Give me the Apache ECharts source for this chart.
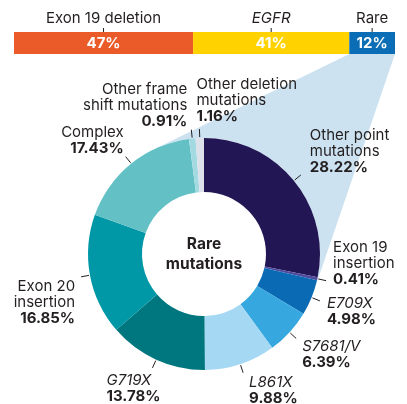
<!DOCTYPE html>
<html>
<head>
<meta charset="utf-8">
<script src="https://cdn.jsdelivr.net/npm/echarts@6/dist/echarts.min.js"></script>
<style>
html, body { margin: 0; padding: 0; background: #fff; }
#chart { width: 407px; height: 404px; }
</style>
</head>
<body>
<div id="chart"></div>
<script>
// top bar: split of EGFR mutations
var barNames = ['Exon 19 deletion', 'EGFR', 'Rare'];
var barValues = [47, 41, 12];
var barColors = ['#EB5B2A', '#FFD200', '#0A6DB5'];

// donut: rare mutations, clockwise from 12 o'clock
var rareNames = ['Other point\nmutations', 'Exon 19\ninsertion', 'E709X', 'S7681/V', 'L861X',
	'G719X', 'Exon 20\ninsertion', 'Complex', 'Other frame\nshift mutations', 'Other deletion\nmutations'];
var rareValues = [28.22, 0.41, 4.98, 6.39, 9.88, 13.78, 16.85, 17.43, 0.91, 1.16];
var rareColors = ['#231655', '#4F4A9E', '#0A6AB3', '#36A8DF', '#A5D8F3',
	'#00777F', '#0098A6', '#63C1C6', '#A3DAE2', '#DCE1EA'];
var italicNames = ['EGFR', 'E709X', 'S7681/V', 'L861X', 'G719X'];

// where each label sits relative to the end of its tick: [align, dx, dy(top)]
var labelPlace = [
	['left', 9, -47], ['left', 7, -41], ['left', 7, -5], ['left', 6, 0], ['left', 6, 2],
	['left', -46, 5], ['right', -6, 2], ['right', -2, -32], ['right', -4, -48], ['left', -3, -53]
];

var FONT = 'Inter, "Noto Sans", sans-serif';
var TEXT = '#231f20';
var FS = 15;
var cx = 204, cy = 254, rIn = 62, rOut = 116;
var gridTop = 32, gridH = 22;

// mid angle of every slice (radians, 0 = up, clockwise)
var total = rareValues.reduce(function (a, b) { return a + b; }, 0);
var midAngles = [];
var acc = 0;
for (var i = 0; i < rareValues.length; i++) {
	midAngles.push((acc + rareValues[i] / 2) / total * Math.PI * 2);
	acc += rareValues[i];
}
function polar(a, r) {
	return [cx + r * Math.sin(a), cy - r * Math.cos(a)];
}

var myChart = echarts.init(document.getElementById('chart'));

var barSeries = barNames.map(function (name, i) {
	return {
		name: name,
		type: 'bar',
		stack: 'all',
		barWidth: '100%',
		silent: true,
		itemStyle: { color: barColors[i] },
		label: {
			show: true,
			position: 'inside',
			formatter: '{c}%',
			color: '#fff',
			fontFamily: FONT,
			fontWeight: 'bold',
			fontSize: FS
		},
		data: [barValues[i]]
	};
});

var option = {
	animation: false,
	grid: { left: 14, right: 12, top: gridTop, height: gridH },
	xAxis: { type: 'value', min: 0, max: 100, show: false },
	yAxis: { type: 'category', data: ['EGFR'], show: false },
	series: barSeries.concat([{
		type: 'pie',
		center: [cx, cy],
		radius: [rIn, rOut],
		startAngle: 90,
		clockwise: true,
		silent: true,
		avoidLabelOverlap: false,
		z: 3,
		data: rareValues.map(function (v, i) {
			return { name: rareNames[i], value: v, itemStyle: { color: rareColors[i] } };
		}),
		label: {
			show: true,
			position: 'outside',
			formatter: function (p) {
				var style = italicNames.indexOf(p.name) >= 0 ? 'i' : 'n';
				return '{' + style + '|' + p.name + '}\n{v|' + p.value.toFixed(2) + '%}';
			},
			rich: {
				n: { fontFamily: FONT, fontSize: FS, lineHeight: 16, color: TEXT },
				i: { fontFamily: FONT, fontSize: FS, lineHeight: 16, color: TEXT, fontStyle: 'italic' },
				v: { fontFamily: FONT, fontSize: FS, lineHeight: 16, color: TEXT, fontWeight: 'bold' }
			}
		},
		labelLine: { show: true, length: 8, length2: 0, lineStyle: { color: TEXT, width: 1 } },
		labelLayout: function (params) {
			var i = params.dataIndex;
			var p0 = polar(midAngles[i], rOut + 1);
			var p1 = polar(midAngles[i], rOut + 9);
			var place = labelPlace[i];
			return {
				x: p1[0] + place[1],
				y: p1[1] + place[2],
				align: place[0],
				verticalAlign: 'top',
				labelLinePoints: [p0, p1, p1]
			};
		}
	}])
};
myChart.setOption(option);

// wedge from the Rare segment to the donut, tangent to the outer ring
var xa = myChart.convertToPixel({ xAxisIndex: 0 }, barValues[0] + barValues[1]);
var xb = myChart.convertToPixel({ xAxisIndex: 0 }, 100);
var yb = gridTop + gridH;
function tangent(px, py, side) {
	var d = Math.sqrt((px - cx) * (px - cx) + (py - cy) * (py - cy));
	return Math.atan2(py - cy, px - cx) + side * Math.acos(rOut / d);
}
var t1 = tangent(xb, yb, 1);
var t2 = tangent(xa, yb, -1);
var wedge = [[xa, yb], [xb, yb]];
for (var k = 0; k <= 24; k++) {
	var a = t1 + (t2 - t1) * k / 24;
	wedge.push([cx + rOut * Math.cos(a), cy + rOut * Math.sin(a)]);
}

var graphics = [{
	type: 'polygon',
	silent: true,
	z: 1,
	shape: { points: wedge },
	style: { fill: '#CCE2F1' }
}, {
	type: 'text',
	silent: true,
	z: 5,
	x: cx,
	y: cy,
	style: {
		text: 'Rare\nmutations',
		align: 'center',
		verticalAlign: 'middle',
		fontFamily: FONT,
		fontWeight: 'bold',
		fontSize: 15.5,
		lineHeight: 20,
		fill: TEXT
	}
}];

// names above the bar with small ticks
var start = 0;
barNames.forEach(function (name, i) {
	var mx = myChart.convertToPixel({ xAxisIndex: 0 }, start + barValues[i] / 2);
	start += barValues[i];
	graphics.push({
		type: 'text',
		silent: true,
		x: mx,
		y: gridTop - 14,
		style: {
			text: name,
			align: 'center',
			verticalAlign: 'middle',
			fontFamily: FONT,
			fontSize: FS,
			fontStyle: italicNames.indexOf(name) >= 0 ? 'italic' : 'normal',
			fill: TEXT
		}
	});
	graphics.push({
		type: 'line',
		silent: true,
		shape: { x1: mx, y1: gridTop - 4, x2: mx, y2: gridTop },
		style: { stroke: TEXT, lineWidth: 1 }
	});
});

myChart.setOption({ graphic: graphics });
</script>
</body>
</html>
